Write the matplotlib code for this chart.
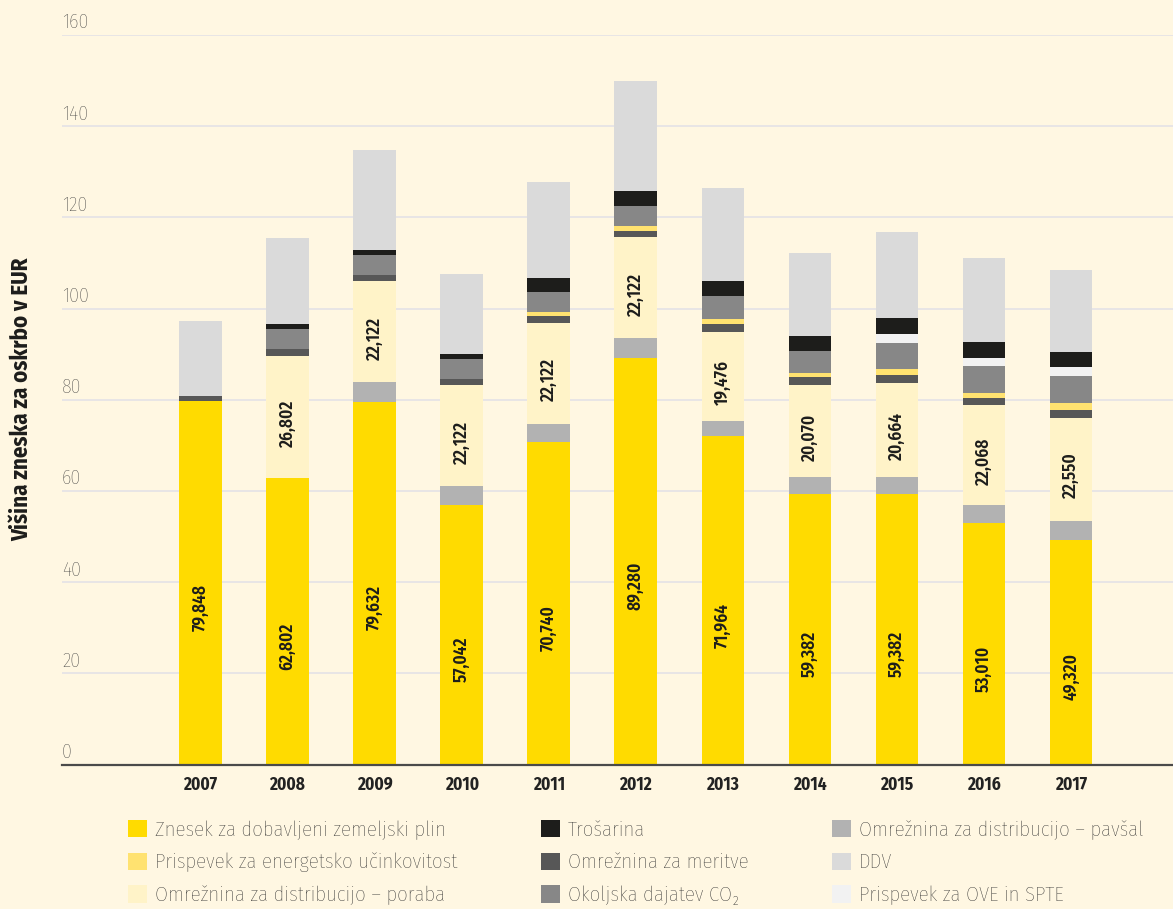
import matplotlib
matplotlib.use("Agg")
import matplotlib.pyplot as plt
import numpy as np

plt.rcParams['font.family'] = ['Fira Sans Condensed', 'DejaVu Sans']
plt.rcParams['font.stretch'] = 'condensed'

years = ['2007', '2008', '2009', '2010', '2011', '2012', '2013', '2014', '2015', '2016', '2017']

# stacked from bottom to top, values in EUR
znesek = [79.848, 62.802, 79.632, 57.042, 70.740, 89.280, 71.964, 59.382, 59.382, 53.010, 49.320]
pavsal = [0, 0, 4.2, 4.0, 4.0, 4.2, 3.5, 3.7, 3.7, 3.9, 4.2]
poraba = [0, 26.802, 22.122, 22.122, 22.122, 22.122, 19.476, 20.070, 20.664, 22.068, 22.550]
meritve = [1.1, 1.5, 1.5, 1.5, 1.5, 1.5, 1.8, 1.8, 1.8, 1.5, 1.8]
ucinkovitost = [0, 0, 0, 0, 0.9, 1.1, 0.9, 0.9, 1.3, 1.1, 1.5]
co2 = [0, 4.4, 4.4, 4.2, 4.4, 4.2, 5.1, 4.8, 5.7, 5.9, 5.9]
ove = [0, 0, 0, 0, 0, 0, 0, 0, 2.0, 1.8, 2.0]
trosarina = [0, 1.1, 1.1, 1.1, 3.1, 3.3, 3.3, 3.3, 3.3, 3.3, 3.3]
ddv = [16.3, 18.9, 21.9, 17.7, 21.0, 24.2, 20.5, 18.3, 19.0, 18.5, 17.9]

segments = [
    ('Znesek za dobavljeni zemeljski plin', znesek, '#ffdb00'),
    ('Omrežnina za distribucijo – pavšal', pavsal, '#b2b2b2'),
    ('Omrežnina za distribucijo – poraba', poraba, '#fff3c8'),
    ('Omrežnina za meritve', meritve, '#575757'),
    ('Prispevek za energetsko učinkovitost', ucinkovitost, '#ffe270'),
    ('Okoljska dajatev CO₂', co2, '#878787'),
    ('Prispevek za OVE in SPTE', ove, '#f2f2f2'),
    ('Trošarina', trosarina, '#1d1d1b'),
    ('DDV', ddv, '#dadada'),
]
legend_order = [
    'Znesek za dobavljeni zemeljski plin',
    'Prispevek za energetsko učinkovitost',
    'Omrežnina za distribucijo – poraba',
    'Trošarina',
    'Omrežnina za meritve',
    'Okoljska dajatev CO₂',
    'Omrežnina za distribucijo – pavšal',
    'DDV',
    'Prispevek za OVE in SPTE',
]
# value labels sit a bit below the middle of their segment in the original
label_shift = {'Znesek za dobavljeni zemeljski plin': -5.4,
               'Omrežnina za distribucijo – poraba': -1.4}

BG = '#fff7e2'
fig = plt.figure(figsize=(11.73, 9.09), dpi=100, facecolor=BG)
ax = fig.add_axes([62 / 1173, 1 - 764.7 / 909, 1 - 62 / 1173, (764.7 - 35) / 909])
ax.set_facecolor(BG)

x = np.arange(len(years))
bottom = np.zeros(len(years))
handles = {}
for name, vals, col in segments:
    vals = np.array(vals)
    handles[name] = ax.bar(x, vals, 0.49, bottom=bottom, color=col, linewidth=0, zorder=3)
    if name in label_shift:
        for xi, v, b0 in zip(x, vals, bottom):
            if v > 0:
                ax.text(xi, b0 + v / 2 + label_shift[name], ('%.3f' % v).replace('.', ','),
                        rotation=90, ha='center', va='center', fontsize=12.5,
                        fontweight='semibold', color='#1d1d1b', zorder=4)
    bottom = bottom + vals

ax.set_ylim(0, 160)
ax.set_xlim(-1.59, 11.17)
yt = [0, 20, 40, 60, 80, 100, 120, 140, 160]
for t in yt[1:]:
    ax.axhline(t, color='#e4e2e6', lw=1.2, zorder=1)
for t in yt:
    ax.annotate(str(t), (0, t), xycoords=('axes fraction', 'data'), xytext=(0, 2),
                textcoords='offset points', ha='left', va='bottom', fontsize=14.5,
                fontweight='light', color='#3a3a3a')
ax.set_yticks([])
ax.set_xticks(x)
ax.set_xticklabels(years, fontsize=12.5, fontweight='bold', color='#222222')
ax.tick_params(axis='x', length=0, pad=8)
for s in ['top', 'right', 'left']:
    ax.spines[s].set_visible(False)
ax.spines['bottom'].set_color('#4a4a4a')
ax.spines['bottom'].set_linewidth(1.6)
ax.spines['bottom'].set_zorder(5)

fig.text(22 / 1173, 1 - 399 / 909, 'Višina zneska za oskrbo v EUR', rotation=90,
         ha='center', va='center', fontsize=16.5, fontweight='bold', color='#1d1d1b')

leg = fig.legend([handles[n] for n in legend_order], legend_order, ncol=3,
                 loc='upper left', bbox_to_anchor=(128 / 1173, 1 - 820 / 909),
                 frameon=False, handlelength=0.9, handleheight=0.9,
                 handletextpad=0.4, columnspacing=4.0, labelspacing=0.62,
                 borderaxespad=0, borderpad=0, prop={'weight': 'light', 'size': 15})
for t in leg.get_texts():
    t.set_color('#2a2a2a')

fig.savefig('out.png', dpi=100, facecolor=BG)
